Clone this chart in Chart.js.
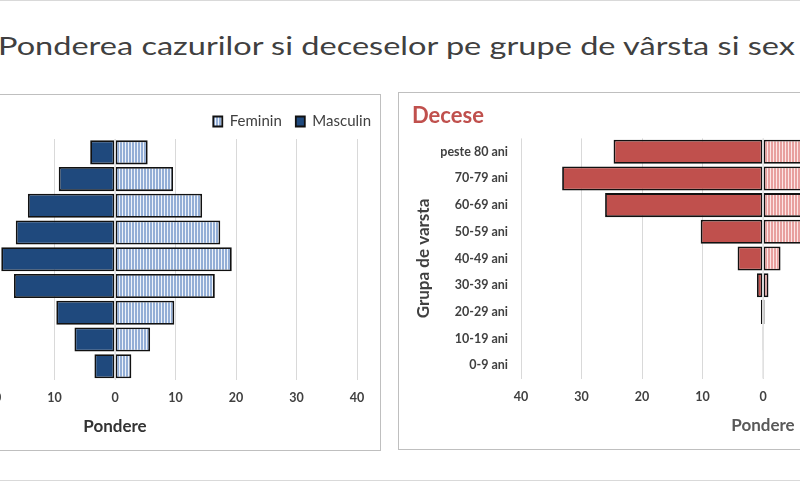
<!DOCTYPE html>
<html>
<head>
<meta charset="utf-8">
<script src="https://cdn.jsdelivr.net/npm/chart.js@4.4.1/dist/chart.umd.min.js"></script>
<style>
  html, body { margin: 0; padding: 0; width: 800px; height: 494px; overflow: hidden; background: #fff; }
  body { position: relative; font-family: Lato, sans-serif; }
  .rule { position: absolute; left: 0; width: 800px; height: 1px; background: #d9d9d9; }
  #title { position: absolute; left: -2px; top: 33px; white-space: nowrap; font-size: 25px; line-height: 1; color: #404040; transform-origin: 0 0; }
  .panel { position: absolute; width: 631px; border: 1px solid #bfbfbf; box-sizing: border-box; background: #fff; }
  .box { position: relative; width: 629px; height: 100%; }
</style>
</head>
<body>
<div class="rule" style="top:0"></div>
<div class="rule" style="top:480px"></div>
<div id="title">Ponderea cazurilor si deceselor pe grupe de vârsta si sex</div>

<div class="panel" style="left:-250px; top:94px; height:357px;">
  <div class="box"><canvas id="casesChart"></canvas></div>
</div>
<div class="panel" style="left:398px; top:92px; height:358px;">
  <div class="box"><canvas id="deathsChart"></canvas></div>
</div>

<script>
// age groups, top row first
const ageGroups = ['peste 80 ani', '70-79 ani', '60-69 ani', '50-59 ani', '40-49 ani', '30-39 ani', '20-29 ani', '10-19 ani', '0-9 ani'];

// share of cases (%)
const casesFemale = [5.4, 9.6, 14.4, 17.4, 19.3, 16.5, 9.8, 5.8, 2.7];
const casesMale = [4.1, 9.3, 14.4, 16.4, 18.8, 16.7, 9.7, 6.7, 3.4];

// share of deaths (%)
const deathsFemale = [28, 30, 18, 7.5, 2.9, 0.9, 0.25, 0, 0];
const deathsMale = [24.7, 33.2, 26.1, 10.3, 4.2, 1.0, 0.35, 0.15, 0];

const axisMin = -40;
const axisMax = 40;
const axisStep = 10;

// fit the page title to the width it has in the picture
const titleEl = document.getElementById('title');
titleEl.style.transform = 'scaleX(' + (797 / titleEl.getBoundingClientRect().width) + ')';

// vertical stripes used for the "Feminin" bars
function stripes(dark, light) {
  const c = document.createElement('canvas');
  c.width = 3; c.height = 4;
  const g = c.getContext('2d');
  g.fillStyle = light; g.fillRect(0, 0, 3, 4);
  g.fillStyle = dark; g.fillRect(0, 0, 2, 4);
  return g.createPattern(c, 'repeat');
}

// light line at 0 drawn over the bars
const zeroLine = {
  id: 'zeroLine',
  afterDatasetsDraw(chart) {
    const x = chart.scales.x.getPixelForValue(0);
    const { top, bottom } = chart.chartArea;
    const ctx = chart.ctx;
    ctx.save();
    ctx.strokeStyle = '#e3e3e3';
    ctx.lineWidth = 1.5;
    ctx.beginPath();
    ctx.moveTo(x, top);
    ctx.lineTo(x, bottom);
    ctx.stroke();
    ctx.restore();
  }
};

// legend sits close to the right border of the panel, past the plot edge
const legendRight = {
  id: 'legendRight',
  beforeDraw(chart) {
    const l = chart.legend;
    if (!l) return;
    const w = l.right - l.left;
    l.right = chart.width + 5;
    l.left = l.right - w;
  }
};

function pyramid(id, female, male, femaleFill, maleFill, extra) {
  const ctx = document.getElementById(id).getContext('2d');
  return new Chart(ctx, {
    type: 'bar',
    data: {
      labels: ageGroups,
      datasets: [{
        label: 'Feminin',
        data: female,
        backgroundColor: femaleFill,
        borderColor: '#111',
        borderWidth: 1.8,
        borderSkipped: false,
        barPercentage: 0.9,
        categoryPercentage: 1
      }, {
        label: 'Masculin',
        data: male.map(v => -v),
        backgroundColor: maleFill,
        borderColor: '#111',
        borderWidth: 1.8,
        borderSkipped: false,
        barPercentage: 0.9,
        categoryPercentage: 1
      }]
    },
    options: {
      indexAxis: 'y',
      responsive: true,
      maintainAspectRatio: false,
      animation: false,
      layout: { padding: extra.padding },
      plugins: {
        legend: extra.legend,
        title: extra.title,
        tooltip: { enabled: false }
      },
      scales: {
        x: {
          stacked: true,
          min: axisMin,
          max: axisMax,
          ticks: {
            stepSize: axisStep,
            autoSkip: false,
            maxRotation: 0,
            padding: 11,
            color: '#404040',
            font: { family: 'Lato', size: 12.5, weight: 'bold' },
            callback: v => Math.abs(v)
          },
          grid: { color: '#d9d9d9', drawTicks: false },
          border: { display: false },
          title: {
            display: true,
            text: 'Pondere',
            color: extra.xTitleColor,
            padding: { top: 0, bottom: 0 },
            font: { family: 'Lato', size: 17, weight: 'bold' }
          }
        },
        y: {
          stacked: true,
          ticks: {
            padding: 13,
            color: '#404040',
            font: { family: 'Lato', size: 12.5, weight: 'bold' }
          },
          grid: { display: false, drawTicks: false },
          border: { display: false },
          title: {
            display: true,
            text: 'Grupa de varsta',
            color: '#404040',
            padding: { top: 1, bottom: 0 },
            font: { family: 'Lato', size: 17, weight: 'bold' }
          },
          afterFit: s => { s.width = 109; }
        }
      }
    },
    plugins: extra.plugins
  });
}

pyramid('casesChart', casesFemale, casesMale, stripes('#93aed6', '#eef3fa'), '#1f497d', {
  padding: { left: 13, right: 23, top: 5, bottom: 13 },
  xTitleColor: '#333333',
  plugins: [zeroLine, legendRight],
  title: { display: false },
  legend: {
    position: 'top',
    align: 'end',
    labels: {
      boxWidth: 9,
      boxHeight: 10,
      padding: 14,
      color: '#404040',
      font: { family: 'Lato', size: 15 }
    }
  }
});

pyramid('deathsChart', deathsFemale, deathsMale, stripes('#e8a09f', '#fce6e6'), '#c0504d', {
  padding: { left: 13, right: 23, top: 5, bottom: 13 },
  xTitleColor: '#595959',
  plugins: [zeroLine],
  legend: { display: false },
  title: {
    display: true,
    text: 'Decese',
    align: 'start',
    color: '#c0504d',
    padding: { top: 5, bottom: 9 },
    font: { family: 'Lato', size: 22, weight: 'bold' }
  }
});
</script>
</body>
</html>
